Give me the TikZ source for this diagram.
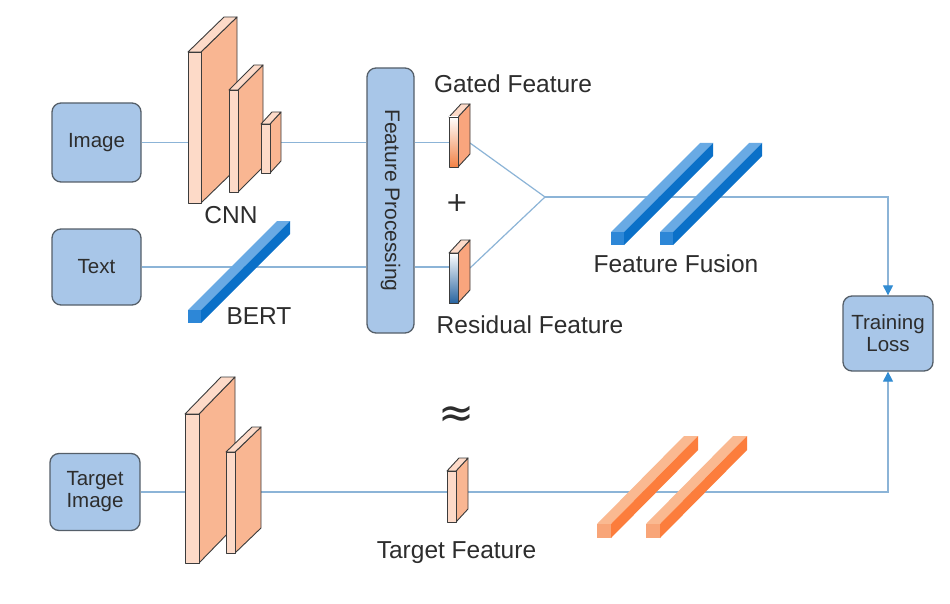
\documentclass[tikz,border=0pt]{standalone}
\usepackage{fontspec}
\setmainfont{Liberation Sans}
\newfontfamily\symf{DejaVu Sans}
\usetikzlibrary{arrows.meta,calc}
\definecolor{boxfill}{RGB}{168,198,232}
\definecolor{boxdraw}{RGB}{85,95,105}
\definecolor{linec}{RGB}{140,180,215}
\definecolor{tipc}{RGB}{50,140,210}
\definecolor{slabfront}{RGB}{253,218,200}
\definecolor{slabsidec}{RGB}{249,182,146}
\definecolor{slabline}{RGB}{60,60,60}
\definecolor{btop}{RGB}{105,170,228}
\definecolor{bside}{RGB}{10,112,200}
\definecolor{bfront}{RGB}{45,135,215}
\definecolor{otop}{RGB}{250,185,145}
\definecolor{oside}{RGB}{252,125,60}
\definecolor{ofront}{RGB}{248,165,120}
\definecolor{gbottom}{RGB}{242,130,70}
\definecolor{rbottom}{RGB}{40,100,160}
\definecolor{gside}{RGB}{249,165,125}
\definecolor{txtc}{RGB}{45,45,45}
\newcommand\myslab[6]{%
  \filldraw[slabst,fill=slabsidec] (#3,#2) -- ++(#5,#6) -- ++(0,#4-#2) -- (#3,#4) -- cycle;
  \filldraw[slabst,fill=slabfront] (#1,#2) -- ++(#5,#6) -- ++(#3-#1,0) -- (#3,#2) -- cycle;
  \filldraw[slabst,fill=slabfront] (#1,#2) rectangle (#3,#4);
}
\newcommand\mybar[9]{%
  \fill[#8] (#1,#2) -- ++(#5,#6) -- ++(#3-#1,0) -- (#3,#2) -- cycle;
  \fill[#9] (#3,#2) -- ++(#5,#6) -- ++(0,#4-#2) -- (#3,#4) -- cycle;
  \fill[#7] (#1,#2) rectangle (#3,#4);
}
\begin{document}
\begin{tikzpicture}[x=1pt,y=-1pt,
  box/.style={draw=boxdraw,fill=boxfill,line width=1.3pt,rounded corners=9pt,
    text=txtc,align=center,font=\fontsize{20.5}{22}\selectfont,inner sep=0pt},
  lbl/.style={text=txtc,font=\fontsize{24.5}{27}\selectfont,inner sep=0pt,anchor=base},
  conn/.style={draw=linec,line width=1.2pt},
  arr/.style={-{Triangle[length=10pt,width=10pt,color=tipc]}},
  slabst/.style={draw=slabline,line width=0.9pt,line join=round}]
\fill[white] (0,0) rectangle (950,604);
\useasboundingbox (0,0) rectangle (950,604);

% boxes
\node[box,minimum width=89pt,minimum height=79pt] (img) at (96.5,142.5) {Image};
\node[box,minimum width=89pt,minimum height=76pt] (txt) at (96.5,267) {Text};
\node[box,minimum width=90pt,minimum height=77pt] (tgt) at (95,492) {Target\\Image};
\node[box,minimum width=47pt,minimum height=265pt] (fp) at (390.5,200.5) {};
\node[rotate=-90,text=txtc,font=\fontsize{21}{23}\selectfont] at (fp.center) {Feature Processing};
\node[box,minimum width=90pt,minimum height=75pt] (tl) at (888,333.5) {Training\\Loss};

% coordinates
\coordinate (gin) at (449,142.5);
\coordinate (gout) at (470,143);
\coordinate (rin) at (449,267);
\coordinate (rout) at (470,268);
\coordinate (j) at (545,197);

% connectors
\draw[conn] (img.east) -- (img.east -| fp.west);
\draw[conn] (img.east -| fp.east) -- (gin);
\draw[conn] (txt.east) -- (txt.east -| fp.west);
\draw[conn] (txt.east -| fp.east) -- (rin);
\draw[conn] (gout) -- (j);
\draw[conn] (rout) -- (j);
\draw[conn,arr] (j) -| (tl.north);
\draw[conn,arr] (tgt.east) -| (tl.south);

% CNN (top)
\myslab{188}{52}{201}{203}{36}{-35}
\myslab{229}{90}{238}{192}{25}{-25}
\myslab{261}{124}{270}{173}{11}{-12}
% CNN (bottom)
\myslab{185}{414}{199}{563}{36}{-37}
\myslab{226}{452}{235}{553}{26}{-25}

% BERT bar
\mybar{188}{310}{201}{323}{89}{-89}{bfront}{btop}{bside}
% Feature fusion bars
\mybar{611}{232}{624}{245}{89}{-89}{bfront}{btop}{bside}
\mybar{660}{232}{673}{245}{89}{-89}{bfront}{btop}{bside}
% target bars
\mybar{597}{524}{611}{538}{87}{-88}{ofront}{otop}{oside}
\mybar{646}{524}{660}{538}{87}{-88}{ofront}{otop}{oside}

% gated feature slab
\filldraw[slabst,fill=gside] (458,117) -- ++(12,-13) -- ++(0,50) -- (458,167) -- cycle;
\filldraw[slabst,fill=slabfront] (449,117) -- ++(12,-13) -- ++(9,0) -- (458,117) -- cycle;
\shade[top color=white,middle color=white,bottom color=gbottom] (449,117) rectangle (458,167);
\draw[slabst] (449,117) rectangle (458,167);
% residual feature slab
\filldraw[slabst,fill=gside] (458,253) -- ++(12,-13) -- ++(0,50) -- (458,303) -- cycle;
\filldraw[slabst,fill=slabfront] (449,253) -- ++(12,-13) -- ++(9,0) -- (458,253) -- cycle;
\shade[top color=white,middle color=white,bottom color=rbottom] (449,253) rectangle (458,303);
\draw[slabst] (449,253) rectangle (458,303);
% target feature slab
\myslab{447}{471}{456}{522}{12}{-13}

% labels
\node[lbl] (cnnl) at (231,223) {CNN};
\node[lbl] (bertl) at (259,324) {BERT};
\node[lbl] (gatl) at (513,93) {Gated Feature};
\node[lbl] (resl) at (530,333) {Residual Feature};
\node[lbl] (fusl) at (676,272) {Feature Fusion};
\node[lbl] (tfl) at (456.5,558) {Target Feature};
\node[text=txtc,font=\symf\fontsize{27}{30}\selectfont,inner sep=0pt] (plus) at (457,203) {+};
\node[text=txtc,font=\symf\fontsize{43}{46}\selectfont,inner sep=0pt] (apx) at (457,417) {≈};
\end{tikzpicture}
\end{document}
